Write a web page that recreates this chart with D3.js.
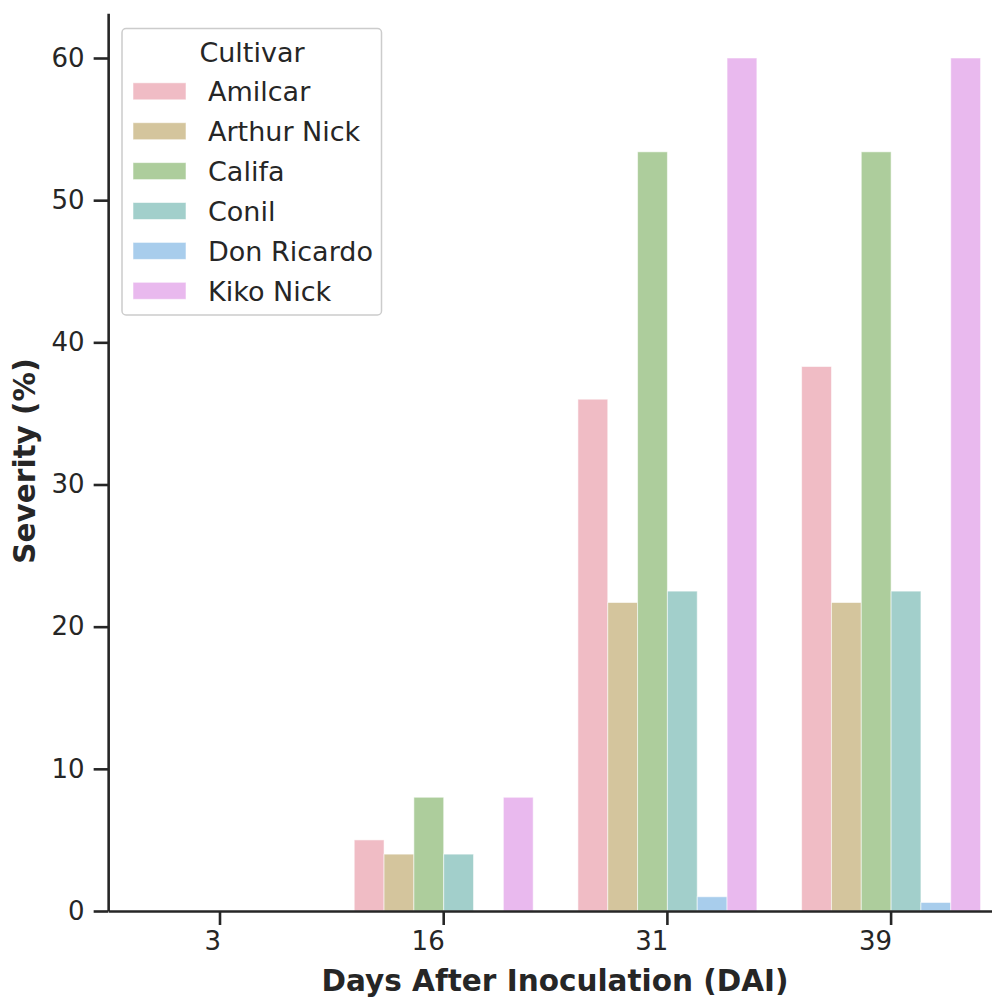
<!DOCTYPE html>
<html>
<head>
<meta charset="utf-8">
<script src="https://cdn.jsdelivr.net/npm/d3@7"></script>
<style>
  html, body { margin: 0; padding: 0; background: #fff; }
  svg text { font-family: "DejaVu Sans", sans-serif; fill: #262626; }
</style>
</head>
<body>
<svg id="chart" width="992" height="999"></svg>
<script>
const days = ["3", "16", "31", "39"];
const cultivars = ["Amilcar", "Arthur Nick", "Califa", "Conil", "Don Ricardo", "Kiko Nick"];
const colors = ["#f0bcc5", "#d4c59d", "#adcd9c", "#a2cfcb", "#a8cdec", "#e9b9ee"];
const amilcar    = [0, 5, 36.0, 38.3];
const arthurNick = [0, 4, 21.7, 21.7];
const califa     = [0, 8, 53.4, 53.4];
const conil      = [0, 4, 22.5, 22.5];
const donRicardo = [0, 0, 1.0, 0.6];
const kikoNick   = [0, 8, 60, 60];
const yTicks = [0, 10, 20, 30, 40, 50, 60];

const seriesValues = [amilcar, arthurNick, califa, conil, donRicardo, kikoNick];
const data = [];
days.forEach((d, i) => cultivars.forEach((c, j) => data.push({day: d, cultivar: c, value: seriesValues[j][i]})));

const svg = d3.select("#chart");
const left = 108.15, step = 223.7, bottom = 911;
const pxPerUnit = 853 / 60;
const yMax = 63.15;
const x = d3.scaleBand().domain(days).range([left, left + step * days.length]).padding(0);
const xi = d3.scaleBand().domain(cultivars).range([step * 0.1, step * 0.9]).padding(0);
const y = d3.scaleLinear().domain([0, yMax]).range([bottom, bottom - yMax * pxPerUnit]);
const color = d3.scaleOrdinal().domain(cultivars).range(colors);

// bars
svg.append("g").selectAll("rect").data(data).join("rect")
  .attr("x", d => x(d.day) + xi(d.cultivar))
  .attr("width", xi.bandwidth())
  .attr("y", d => y(d.value))
  .attr("height", d => y(0) - y(d.value))
  .attr("fill", d => color(d.cultivar))
  .attr("stroke", "#ffffff")
  .attr("stroke-opacity", 0.55)
  .attr("stroke-width", 1);

// y axis
const yAxis = d3.axisLeft(y).tickValues(yTicks).tickSize(14.5).tickSizeOuter(0).tickPadding(9).tickFormat(d3.format("d"));
const gy = svg.append("g").attr("transform", `translate(${left},0)`).call(yAxis);
gy.select(".domain").attr("stroke", "#262626").attr("stroke-width", 2.6);
gy.selectAll(".tick line").attr("stroke", "#262626").attr("stroke-width", 2.6);
gy.selectAll(".tick text").attr("font-size", 26).attr("fill", "#262626").attr("font-family", "DejaVu Sans");

// x axis
const xAxis = d3.axisBottom(x).tickSize(14).tickSizeOuter(0).tickPadding(7);
const gx = svg.append("g").attr("transform", `translate(0,${bottom})`).call(xAxis);
gx.select(".domain").attr("stroke", "#262626").attr("stroke-width", 2.6);
gx.selectAll(".tick line").attr("stroke", "#262626").attr("stroke-width", 2.6);
gx.selectAll(".tick text").attr("font-size", 26).attr("fill", "#262626")
  .attr("font-family", "DejaVu Sans").attr("text-anchor", "end").attr("dx", 1);

// axis titles
svg.append("text").attr("x", 555).attr("y", 991).attr("text-anchor", "middle")
  .attr("font-size", 29.5).attr("font-weight", "bold").text("Days After Inoculation (DAI)");
svg.append("text").attr("transform", "translate(35,461) rotate(-90)").attr("text-anchor", "middle")
  .attr("font-size", 29.5).attr("font-weight", "bold").text("Severity (%)");

// legend
const lg = svg.append("g");
lg.append("rect").attr("x", 122).attr("y", 28.5).attr("width", 259.5).attr("height", 286.5)
  .attr("rx", 4).attr("fill", "#ffffff").attr("fill-opacity", 0.8)
  .attr("stroke", "#cccccc").attr("stroke-width", 1.5);
lg.append("text").attr("x", 252).attr("y", 61.5).attr("text-anchor", "middle")
  .attr("font-size", 27).text("Cultivar");
const items = lg.selectAll("g.item").data(cultivars).join("g").attr("class", "item")
  .attr("transform", (d, i) => `translate(0,${91.3 + i * 39.9})`);
items.append("rect").attr("x", 133).attr("y", -8.5).attr("width", 53).attr("height", 17)
  .attr("fill", d => color(d)).attr("stroke", "#ffffff").attr("stroke-opacity", 0.55).attr("stroke-width", 1);
items.append("text").attr("x", 208).attr("y", 10).attr("font-size", 27).text(d => d);
</script>
</body>
</html>
